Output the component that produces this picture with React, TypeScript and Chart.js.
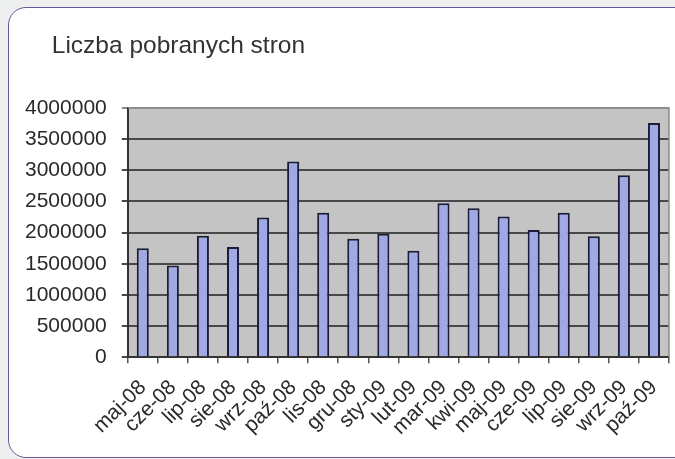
import React, { useEffect, useRef } from "react";
import { Chart, registerables } from "chart.js";

Chart.register(...registerables);

const categories = [
  "maj-08", "cze-08", "lip-08", "sie-08", "wrz-08", "paź-08", "lis-08", "gru-08", "sty-09",
  "lut-09", "mar-09", "kwi-09", "maj-09", "cze-09", "lip-09", "sie-09", "wrz-09", "paź-09",
];
const pageViews = [
  1750000, 1470000, 1950000, 1770000, 2240000, 3140000, 2320000, 1900000, 1980000,
  1710000, 2470000, 2390000, 2260000, 2040000, 2320000, 1940000, 2920000, 3760000,
];
const titleText = "Liczba pobranych stron";
const yMin = 0;
const yMax = 4000000;
const yStep = 500000;

const FONT = "'Liberation Sans', Arial, sans-serif";

const plotBg = {
  id: "plotBg",
  beforeDraw(chart: any) {
    const { ctx, chartArea } = chart;
    ctx.save();
    ctx.fillStyle = "#c4c4c4";
    ctx.fillRect(chartArea.left, chartArea.top, chartArea.right - chartArea.left, chartArea.bottom - chartArea.top);
    ctx.restore();
  },
  afterDraw(chart: any) {
    const { ctx, chartArea } = chart;
    ctx.save();
    ctx.strokeStyle = "#8c8c8c";
    ctx.lineWidth = 1.5;
    ctx.beginPath();
    ctx.moveTo(chartArea.left, chartArea.top);
    ctx.lineTo(chartArea.right, chartArea.top);
    ctx.lineTo(chartArea.right, chartArea.bottom);
    ctx.stroke();
    ctx.fillStyle = "#333333";
    ctx.font = `normal 24.5px ${FONT}`;
    ctx.textAlign = "left";
    ctx.textBaseline = "alphabetic";
    ctx.fillText(titleText, chartArea.left - 76, 53);
    ctx.restore();
  },
};

export default function App() {
  const ref = useRef<HTMLCanvasElement | null>(null);
  useEffect(() => {
    if (!ref.current) return;
    const chart = new Chart(ref.current, {
      type: "bar",
      data: {
        labels: categories,
        datasets: [
          {
            data: pageViews,
            backgroundColor: "#a0a9e4",
            borderColor: "#1c1c38",
            borderWidth: 2,
            categoryPercentage: 0.8,
            barPercentage: 0.5,
          },
        ],
      },
      options: {
        responsive: false,
        animation: false,
        devicePixelRatio: 1,
        layout: { padding: { left: 10, right: 6, top: 108, bottom: 7 } },
        plugins: {
          legend: { display: false },
          tooltip: { enabled: false },
          title: { display: false },
        },
        scales: {
          x: {
            afterFit: (scale: any) => { scale.paddingRight = 0; },
            grid: { offset: true, drawOnChartArea: false, drawTicks: true, tickLength: 6, color: "#555555", lineWidth: 1.5 },
            border: { display: true, color: "#333333", width: 2 },
            ticks: {
              autoSkip: false,
              maxRotation: 45,
              minRotation: 45,
              color: "#2a2a2a",
              padding: 12,
              font: { family: FONT, size: 21 },
            },
          },
          y: {
            min: yMin,
            max: yMax,
            grid: {
              color: (c: any) => (c.tick && c.tick.value === yMax ? "#8c8c8c" : "#484848"),
              lineWidth: 2,
              tickLength: 6,
            },
            border: { display: true, color: "#333333", width: 2 },
            ticks: {
              stepSize: yStep,
              padding: 15,
              color: "#2a2a2a",
              font: { family: FONT, size: 21 },
              callback: (v: any) => String(v),
            },
          },
        },
      },
      plugins: [plotBg],
    });
    return () => chart.destroy();
  }, []);

  return (
    <div style={{ position: "fixed", left: 0, top: 0, width: 675, height: 459, background: "#eef0ef", overflow: "hidden" }}>
      <div
        style={{
          position: "absolute",
          left: 8,
          top: 7,
          width: 700,
          height: 451,
          background: "#ffffff",
          border: "1.5px solid #6a559a",
          borderRadius: 18,
          boxSizing: "border-box",
        }}
      />
      <canvas ref={ref} width={675} height={459} style={{ position: "absolute", left: 0, top: 0 }} />
    </div>
  );
}
